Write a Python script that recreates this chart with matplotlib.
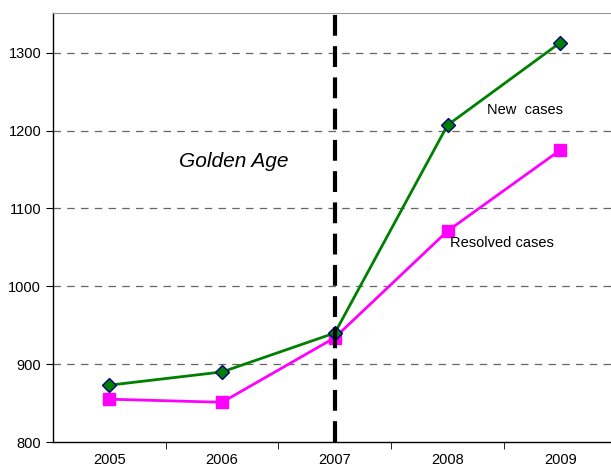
import matplotlib.pyplot as plt

years = ['2005', '2006', '2007', '2008', '2009']
new_cases = [873, 890, 940, 1207, 1313]
resolved_cases = [855, 851, 934, 1071, 1175]
y_ticks = [800, 900, 1000, 1100, 1200, 1300]

plt.rcParams['font.family'] = ['Liberation Sans', 'DejaVu Sans']

fig = plt.figure(figsize=(6.11, 4.68), dpi=100)
ax = fig.add_axes([53/611, 26/468, 558/611, 429/468])

x = list(range(len(years)))

# grid
for v in y_ticks[1:]:
    ax.axhline(v, color='#666666', lw=0.9, ls=(0, (6, 5)), zorder=1)

ax.plot(x, new_cases, color='#008000', lw=2, marker='D', ms=7,
        markerfacecolor='#008000', markeredgecolor='#000080', markeredgewidth=1, zorder=3)
ax.plot(x, resolved_cases, color='#ff00ff', lw=2, marker='s', ms=9,
        markerfacecolor='#ff00ff', markeredgecolor='#ff00ff', zorder=2)

# period divider
ax.axvline(2, color='black', lw=3, ls=(0, (5, 2.5)), zorder=4)

ax.text(1.1, 1160, 'Golden Age', fontsize=15, style='italic', ha='center', va='center')
ax.text(3.69, 1227, 'New  cases', fontsize=10.5, ha='center', va='center')
ax.text(3.02, 1056, 'Resolved cases', fontsize=10.5, ha='left', va='center')

ax.set_xlim(-0.5, 4.45)
ax.set_ylim(800, 1351)
ax.set_yticks(y_ticks)
ax.set_xticks(x)
ax.set_xticklabels(years)
ax.set_xticks([0.5, 1.5, 2.5, 3.5], minor=True)
ax.tick_params(axis='x', which='major', length=0, pad=8, labelsize=10.5)
ax.tick_params(axis='x', which='minor', length=5, direction='out')
ax.tick_params(axis='y', length=5, direction='out', labelsize=10.5)

ax.spines['right'].set_visible(False)
ax.spines['top'].set_color('#999999')
ax.spines['left'].set_linewidth(1)
ax.spines['bottom'].set_linewidth(1)

fig.savefig('out.png', dpi=100)
